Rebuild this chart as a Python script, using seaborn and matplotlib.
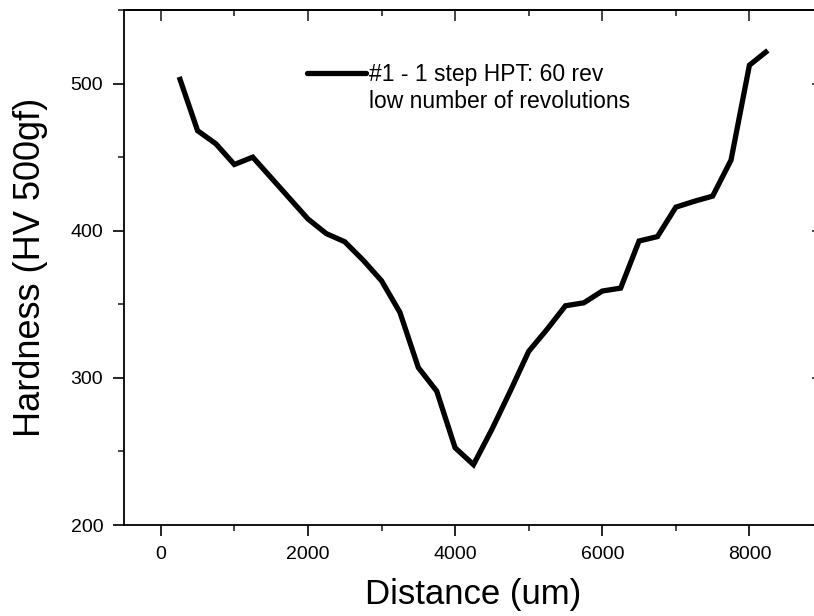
import matplotlib
matplotlib.use("Agg")
import matplotlib.pyplot as plt
from matplotlib.lines import Line2D
from matplotlib.ticker import MultipleLocator
import numpy as np
import pandas as pd
import seaborn as sns

# Microhardness profile across the HPT disc
distance_um = [250, 500, 750, 1000, 1250, 1500, 1750, 2000, 2250, 2500, 2750,
               3000, 3250, 3500, 3750, 4000, 4250, 4500, 4750, 5000, 5250, 5500,
               5750, 6000, 6250, 6500, 6750, 7000, 7250, 7500, 7750, 8000, 8250]
hardness_hv = [504.5, 468, 459, 445, 450, 436, 422, 408, 398, 392.5, 380,
               366, 344.5, 307, 291, 252.5, 241, 265, 291, 318, 333, 349,
               351, 359, 361, 393, 396, 416, 420, 423.5, 448, 512.5, 522.5]

series_label = "#1 - 1 step HPT: 60 rev"
series_note = "low number of revolutions"

df = pd.DataFrame({"Distance": distance_um, "Hardness": hardness_hv})

sns.set_style("ticks")
plt.rcParams["font.family"] = ["Liberation Sans", "DejaVu Sans"]
plt.rcParams["text.color"] = "black"
plt.rcParams["axes.labelcolor"] = "black"

W, H = 814, 616
fig = plt.figure(figsize=(W / 100, H / 100), dpi=100)
left_px, right_px, top_px, bottom_px = 124, 823, 10, 525
ax = fig.add_axes([left_px / W, (H - bottom_px) / H,
                   (right_px - left_px) / W, (bottom_px - top_px) / H])

sns.lineplot(data=df, x="Distance", y="Hardness", ax=ax, color="black",
             linewidth=3.8, solid_joinstyle="miter", solid_capstyle="butt",
             legend=False)

ax.set_xlim(-500, 9000)
ax.set_ylim(200, 550)
ax.xaxis.set_major_locator(MultipleLocator(2000))
ax.xaxis.set_minor_locator(MultipleLocator(1000))
ax.yaxis.set_minor_locator(MultipleLocator(50))
ax.set_yticks([200, 300, 400, 500])

for s in ax.spines.values():
    s.set_visible(True)
    s.set_linewidth(1.3)
    s.set_color("black")

ax.tick_params(axis="both", which="major", length=8, width=1.2, labelsize=14,
               pad=7, colors="black", direction="out")
ax.tick_params(axis="both", which="minor", length=4, width=1.2,
               direction="out")

# inward ticks on the top and right frame edges
sec_x = ax.secondary_xaxis("top")
sec_x.xaxis.set_major_locator(MultipleLocator(2000))
sec_x.xaxis.set_minor_locator(MultipleLocator(1000))
sec_x.tick_params(which="major", direction="in", length=8, width=1.2,
                  labeltop=False)
sec_x.tick_params(which="minor", direction="in", length=4, width=1.2)
sec_x.spines["top"].set_linewidth(1.3)
sec_y = ax.secondary_yaxis("right")
sec_y.set_yticks([200, 300, 400, 500])
sec_y.yaxis.set_minor_locator(MultipleLocator(50))
sec_y.tick_params(which="major", direction="in", length=8, width=1.2,
                  labelright=False)
sec_y.tick_params(which="minor", direction="in", length=4, width=1.2)

ax.set_xlabel("Distance (um)", fontsize=25, labelpad=11, color="black")
ax.set_ylabel("Hardness (HV 500gf)", fontsize=26, labelpad=16, color="black")

handles = [Line2D([], [], color="black", linewidth=3.8),
           Line2D([], [], color="none")]
leg = ax.legend(handles, [series_label, series_note], loc="upper left",
                bbox_to_anchor=(0.2614, 0.898), frameon=False, fontsize=16.5,
                handlelength=2.6, handletextpad=0.1, borderpad=0,
                borderaxespad=0, labelspacing=0.2)
for t in leg.get_texts():
    t.set_color("black")

fig.savefig("out.png", dpi=100)
